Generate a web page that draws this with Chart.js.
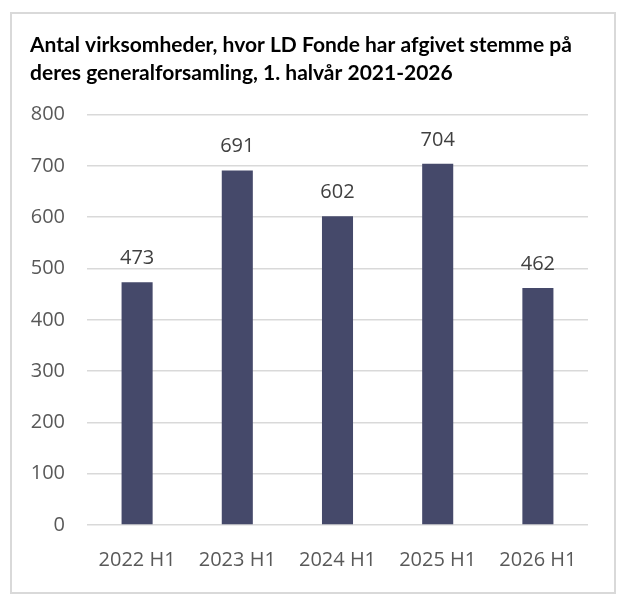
<!DOCTYPE html>
<html>
<head>
<meta charset="utf-8">
<script src="https://cdn.jsdelivr.net/npm/chart.js@4"></script>
<style>
    html, body { margin: 0; padding: 0; background: #ffffff; }
    #wrap { position: relative; width: 633px; height: 606px; }
    #frame { position: absolute; left: 10px; top: 12px; width: 606px; height: 582px; box-sizing: border-box; border: 2px solid #d9d9d9; pointer-events: none; }
</style>
</head>
<body>
<div id="wrap">
    <canvas id="chart" width="633" height="606"></canvas>
    <div id="frame"></div>
</div>
<script>
// data
const categories = ['2022 H1', '2023 H1', '2024 H1', '2025 H1', '2026 H1'];
const values = [473, 691, 602, 704, 462];
const titleLines = ['Antal virksomheder, hvor LD Fonde har afgivet stemme på', 'deres generalforsamling, 1. halvår 2021-2026'];

// simple value labels above each bar
const barLabels = {
    id: 'barLabels',
    afterDatasetsDraw(chart) {
        let ctx = chart.ctx;
        let meta = chart.getDatasetMeta(0);
        ctx.save();
        ctx.font = '20px "Open Sans"';
        ctx.fillStyle = '#404040';
        ctx.textAlign = 'center';
        ctx.textBaseline = 'middle';
        meta.data.forEach((bar, i) => {
            ctx.fillText(values[i], bar.x, bar.y - 24);
        });
        ctx.restore();
    }
};

function draw() {
    var ctx = document.getElementById('chart');
    var chart = new Chart(ctx, {
        type: 'bar',
        data: {
            labels: categories,
            datasets: [
                {
                    label: 'Antal',
                    data: values,
                    backgroundColor: '#45496a',
                    borderWidth: 0,
                    barPercentage: 0.31,
                    categoryPercentage: 1
                }
            ]
        },
        options: {
            responsive: false,
            animation: false,
            layout: { padding: { left: 30, right: 45, top: 14, bottom: 0 } },
            scales: {
                x: {
                    grid: { display: false },
                    border: { display: false },
                    ticks: {
                        color: '#595959',
                        font: { family: 'Open Sans', size: 20 },
                        padding: 15,
                        maxRotation: 0
                    },
                    afterFit(scale) { scale.height = 81; }
                },
                y: {
                    min: 0,
                    max: 800,
                    grid: { color: '#d9d9d9', lineWidth: 1.5, drawTicks: false },
                    border: { display: false },
                    ticks: {
                        stepSize: 100,
                        color: '#595959',
                        font: { family: 'Open Sans', size: 20 },
                        padding: 22
                    },
                    afterFit(scale) { scale.width = 57; }
                }
            },
            plugins: {
                legend: { display: false },
                tooltip: { enabled: false },
                title: {
                    display: true,
                    text: titleLines,
                    align: 'start',
                    color: '#000000',
                    font: { family: 'Lato', size: 21, weight: 'bold', lineHeight: 1.3 },
                    padding: { top: 18, bottom: 28 }
                }
            }
        },
        plugins: [barLabels]
    });
}

Promise.all([
    document.fonts.load('20px "Open Sans"'),
    document.fonts.load('bold 21px Lato')
]).then(draw, draw);
</script>
</body>
</html>
